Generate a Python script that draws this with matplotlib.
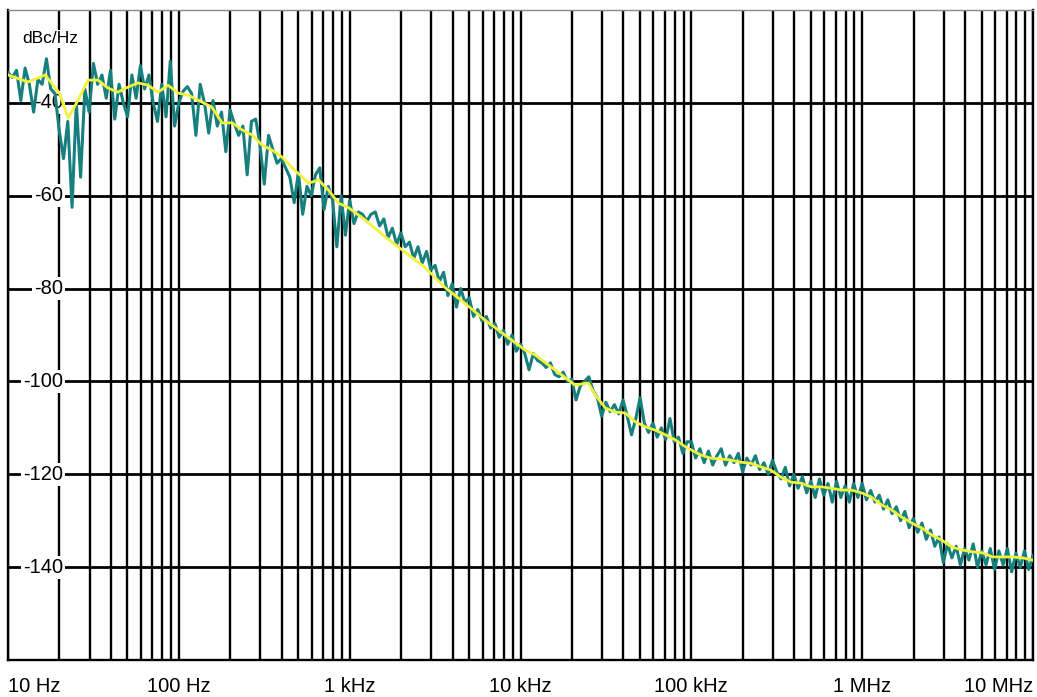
import numpy as np
import matplotlib.pyplot as plt

# 相位噪声数据 (dBc/Hz)
# 原始测量曲线: 10 Hz ~ 10 MHz, 每十倍频 40 点
raw_db = [
    # 10 Hz - 100 Hz
    -33.5, -34.5, -33, -39.5, -32.5, -36, -42, -35, -36, -30.5,
    -37, -38, -46, -52, -44, -62.5, -40, -56, -37, -42,
    -31.5, -36, -34, -39, -33, -43.5, -36, -40, -43, -34,
    -39, -32, -37, -34, -40, -44, -36, -43, -31, -45,
    # 100 Hz - 1 kHz
    -40, -37.5, -36.5, -38, -47, -36, -40, -46.5, -39.5, -45,
    -42, -50.5, -41.5, -44.5, -47, -45, -55.5, -44, -43.5, -49,
    -57.5, -47, -50, -53, -52, -54, -56, -61.5, -55, -64,
    -58, -60, -55.5, -54, -63, -58, -61, -71, -60, -68.5,
    # 1 kHz - 10 kHz
    -61, -66, -63.5, -64, -65.5, -64, -63.5, -66.5, -65, -69,
    -67, -70.5, -68, -71, -70, -73.5, -71, -74.5, -72, -76,
    -75, -78.5, -76.5, -81.5, -79, -84, -80, -83, -82, -86,
    -84.5, -87, -86, -88.5, -87.5, -90.5, -89, -92, -90, -93.5,
    # 10 kHz - 100 kHz
    -92, -94, -97.5, -94, -95.5, -96, -97, -96, -98.5, -99,
    -98, -100, -99.5, -104, -101, -100, -99, -102, -103.5, -107.5,
    -104.5, -106.5, -105, -107, -104, -107.5, -111.5, -108, -103.5, -109,
    -111, -109, -112, -110, -112.5, -108, -113, -112, -115.5, -113,
    # 100 kHz - 1 MHz
    -113, -116.5, -114.5, -117.5, -115, -118, -116, -114.5, -118, -116,
    -117.5, -115.5, -119.5, -116.5, -118, -116, -119, -117.5, -120, -117,
    -119.5, -121, -118.5, -122.5, -120, -123, -120.5, -124, -121.5, -125,
    -121, -124.5, -122, -126, -121.5, -125, -122.5, -126, -122, -125,
    # 1 MHz - 10 MHz
    -122, -125.5, -123.5, -126, -124.5, -127.5, -125.5, -128.5, -127, -130,
    -128, -131.5, -129.5, -132.5, -130.5, -134, -132, -135.5, -133.5, -139,
    -135, -138, -135.5, -139.5, -136, -138.5, -135, -140, -136.5, -139.5,
    -136, -140.5, -136.5, -139.5, -136, -141, -137, -140, -136.5, -140.5,
    -137.5,
]
raw_f = np.logspace(1, 7, len(raw_db))

# 平滑曲线 (黄色)
smooth_f = [10, 13.1, 16.5, 20, 22.5, 25.7, 29.4, 33.6, 38.5, 44,
            50.4, 57.7, 66, 75.5, 86.5, 99,
            113, 136, 156, 179, 205, 234, 268, 307, 352, 403,
            461, 528, 574, 657, 752, 861, 987,
            1230, 1620, 2100, 2750, 3600, 4700, 6200, 8100, 10600,
            12200, 15900, 20900, 24900, 27400, 31300, 35800, 41000, 47000, 54000,
            61600, 70500, 80800, 92500,
            113e3, 129e3, 169e3, 194e3, 222e3, 255e3, 292e3, 334e3, 383e3, 438e3,
            502e3, 575e3, 659e3, 755e3, 864e3, 990e3,
            1.13e6, 1.3e6, 1.49e6, 1.7e6, 1.95e6, 2.24e6, 2.56e6, 2.93e6, 3.36e6, 3.85e6,
            4.41e6, 5.05e6, 5.8e6, 6.6e6, 7.6e6, 8.7e6, 10e6]
smooth_db = [-34, -35.5, -34, -37.9, -43.3, -39.4, -35.1, -35.1, -36.8, -37.7,
             -36.6, -35.7, -36.2, -37.7, -36.2, -37.9,
             -38.3, -39.8, -40.9, -44.3, -44.3, -45.8, -46.9, -49.1, -50.2, -51.7,
             -54, -56, -57.3, -56.6, -58.8, -61.6, -62.6,
             -65.2, -68.9, -72.1, -75.4, -79.7, -83.1, -86.8, -90, -93.2,
             -94.3, -97.5, -100.8, -100.3, -102.9, -105.7, -106.6, -106.8, -108.7, -109.8,
             -110.5, -111.5, -112.6, -114.1,
             -115.8, -116.5, -116.9, -117.4, -117.6, -118.4, -119.1, -120.6, -121.7, -121.9,
             -122.7, -122.7, -123, -123.4, -123.4, -124,
             -124.9, -126.6, -127.7, -129.2, -130.5, -131.6, -133.1, -134.2, -135.7, -136.3,
             -136.7, -136.9, -137.8, -137.8, -137.8, -138, -138.5]

# 坐标轴刻度
x_ticks = [10, 100, 1e3, 1e4, 1e5, 1e6, 1e7]
x_labels = ["10 Hz", "100 Hz", "1 kHz", "10 kHz", "100 kHz", "1 MHz", "10 MHz"]
y_ticks = [-40, -60, -80, -100, -120, -140]

narrow = ['Liberation Sans Narrow', 'Liberation Sans', 'DejaVu Sans']

fig = plt.figure(figsize=(10.37, 6.97), dpi=100)
ax = fig.add_axes([8 / 1037, 37 / 697, 1025 / 1037, 650 / 697])
ax.set_xscale('log')
ax.set_xlim(10, 1e7)
ax.set_ylim(-160, -20)

# 网格线
minor = [m * d for d in x_ticks[:-1] for m in range(2, 10)]
ax.set_xticks(minor, minor=True)
ax.set_xticklabels([], minor=True)
ax.set_xticks(x_ticks)
ax.set_xticklabels(x_labels, fontsize=14.5, family=narrow)
ax.set_yticks(y_ticks)
ax.set_yticklabels([])
ax.tick_params(which='both', length=0)
ax.tick_params(axis='x', pad=12)
ax.grid(True, which='both', axis='x', color='black', lw=1.7, zorder=1)
ax.grid(True, which='major', axis='y', color='black', lw=2.0, zorder=1)
ax.set_axisbelow(True)

labels = ax.get_xticklabels()
labels[0].set_ha('left')
labels[-1].set_ha('right')

for s in ['left', 'bottom', 'right']:
    ax.spines[s].set_linewidth(1.7)
ax.spines['top'].set_color('#888888')
ax.spines['top'].set_linewidth(1.0)

# y 轴标签放在图内, 白底
for v in y_ticks:
    ax.text(0.054, v, str(v), transform=ax.get_yaxis_transform(),
            ha='right', va='center', fontsize=14.5, family=narrow, zorder=2,
            bbox=dict(boxstyle='square,pad=0.1', fc='white', ec='none'))
ax.text(0.041, -26.2, "dBc/Hz", transform=ax.get_yaxis_transform(),
        ha='center', va='center', fontsize=12.5, family=['Liberation Sans', 'DejaVu Sans'],
        zorder=2, bbox=dict(boxstyle='square,pad=0.1', fc='white', ec='none'))

ax.plot(raw_f, raw_db, color='#17807e', lw=2.2, zorder=3)
ax.plot(smooth_f, smooth_db, color='#f2f23a', lw=2.0, zorder=4)

plt.savefig('out.png', dpi=100)
